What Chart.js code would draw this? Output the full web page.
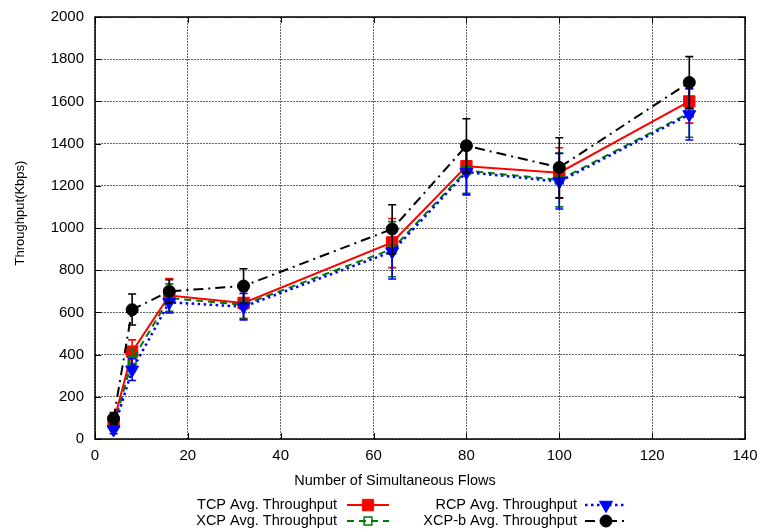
<!DOCTYPE html>
<html><head><meta charset="utf-8">
<script src="https://cdn.jsdelivr.net/npm/chart.js@4.4.0/dist/chart.umd.min.js"></script>
<style>html,body{margin:0;padding:0;background:#fff;}</style>
</head><body>
<canvas id="c" width="760" height="532"></canvas>
<script>
// ---- data ----
const flows = [4, 8, 16, 32, 64, 80, 100, 128];

const tcpAvg  = [78, 414, 680, 645, 932, 1293, 1262, 1600];
const tcpLow  = [55, 357, 602, 572, 812, 1161, 1142, 1497];
const tcpHigh = [102, 470, 760, 705, 1045, 1410, 1380, 1705];

const xcpAvg  = [60, 372, 668, 636, 900, 1272, 1228, 1545];
const xcpLow  = [40, 320, 605, 568, 769, 1165, 1100, 1430];
const xcpHigh = [85, 425, 735, 700, 1030, 1380, 1355, 1660];

const rcpAvg  = [45, 328, 648, 627, 888, 1265, 1220, 1538];
const rcpLow  = [25, 277, 597, 564, 758, 1157, 1090, 1417];
const rcpHigh = [70, 380, 700, 690, 1015, 1372, 1353, 1660];

const xcpbAvg  = [97, 613, 700, 725, 995, 1390, 1287, 1690];
const xcpbLow  = [70, 540, 645, 643, 877, 1262, 1143, 1568];
const xcpbHigh = [125, 687, 755, 807, 1110, 1518, 1428, 1812];

const seriesLabels = ['TCP Avg. Throughput', 'XCP Avg. Throughput', 'RCP Avg. Throughput', 'XCP-b Avg. Throughput'];
const xTitle = 'Number of Simultaneous Flows';
const yTitle = 'Throughput(Kbps)';

const FONT = "'Liberation Sans', Arial, Helvetica, sans-serif";
Chart.defaults.font.family = FONT;
Chart.defaults.font.size = 15;
Chart.defaults.color = '#000';

const pts = arr => arr.map((v, i) => ({x: flows[i], y: v}));

const datasets = [
  {label: seriesLabels[0], data: pts(tcpAvg), low: tcpLow, high: tcpHigh,
   borderColor: '#ff0000', borderWidth: 2, borderDash: [],
   pointStyle: 'rect', pointRadius: 8, pointBackgroundColor: '#ff0000', pointBorderColor: '#ff0000', pointBorderWidth: 1,
   order: 3},
  {label: seriesLabels[1], data: pts(xcpAvg), low: xcpLow, high: xcpHigh,
   borderColor: '#007a00', borderWidth: 2, borderDash: [7, 5],
   pointStyle: 'rect', pointRadius: 5.5, pointBackgroundColor: 'rgba(0,0,0,0)', pointBorderColor: '#007a00', pointBorderWidth: 1.5,
   order: 2},
  {label: seriesLabels[2], data: pts(rcpAvg), low: rcpLow, high: rcpHigh,
   borderColor: '#0000ff', borderWidth: 2.5, borderDash: [2.5, 3.5],
   pointStyle: 'triangle', pointRotation: 180, pointRadius: 7.5, pointBackgroundColor: '#0000ff', pointBorderColor: '#0000ff', pointBorderWidth: 1,
   order: 1},
  {label: seriesLabels[3], data: pts(xcpbAvg), low: xcpbLow, high: xcpbHigh,
   borderColor: '#000000', borderWidth: 2, borderDash: [10, 5, 2, 5],
   pointStyle: 'circle', pointRadius: 6, pointBackgroundColor: '#000000', pointBorderColor: '#000000', pointBorderWidth: 1,
   order: 0}
];

const errorBars = {
  id: 'errorBars',
  beforeDatasetDraw(chart, args) {
    const ds = chart.data.datasets[args.index];
    const {ctx, scales: {x, y}} = chart;
    ctx.save();
    ctx.strokeStyle = ds.borderColor;
    ctx.lineWidth = 1.6;
    ctx.setLineDash([]);
    ds.low.forEach((lo, j) => {
      const px = x.getPixelForValue(flows[j]);
      const y1 = y.getPixelForValue(lo), y2 = y.getPixelForValue(ds.high[j]);
      ctx.beginPath();
      ctx.moveTo(px, y1); ctx.lineTo(px, y2);
      ctx.moveTo(px - 4, y1); ctx.lineTo(px + 4, y1);
      ctx.moveTo(px - 4, y2); ctx.lineTo(px + 4, y2);
      ctx.stroke();
    });
    ctx.restore();
  }
};

const frame = {
  id: 'frame',
  beforeDatasetsDraw(chart) {
    const {ctx, chartArea: a, scales: {x, y}} = chart;
    ctx.save();
    ctx.strokeStyle = '#000';
    ctx.lineWidth = 1;
    ctx.setLineDash([]);
    ctx.beginPath();
    y.ticks.forEach(t => {
      const py = Math.round(y.getPixelForValue(t.value)) + 0.5;
      ctx.moveTo(a.left, py); ctx.lineTo(a.left + 6, py);
      ctx.moveTo(a.right, py); ctx.lineTo(a.right - 6, py);
    });
    x.ticks.forEach(t => {
      const px = Math.round(x.getPixelForValue(t.value)) + 0.5;
      ctx.moveTo(px, a.bottom); ctx.lineTo(px, a.bottom - 6);
      ctx.moveTo(px, a.top); ctx.lineTo(px, a.top + 6);
    });
    ctx.stroke();
    ctx.lineWidth = 1.5;
    ctx.strokeRect(a.left, a.top, a.right - a.left, a.bottom - a.top);
    ctx.restore();
  }
};

function marker(ctx, ds, cx, cy) {
  ctx.save();
  ctx.setLineDash([]);
  ctx.fillStyle = ds.pointBackgroundColor;
  ctx.strokeStyle = ds.pointBorderColor;
  ctx.lineWidth = ds.pointBorderWidth;
  const r = ds.pointRadius;
  ctx.beginPath();
  if (ds.pointStyle === 'rect') {
    const s = Math.SQRT1_2 * r;
    ctx.rect(cx - s, cy - s, 2 * s, 2 * s);
  } else if (ds.pointStyle === 'triangle') {
    const rot = (ds.pointRotation || 0) * Math.PI / 180;
    for (let k = 0; k < 3; k++) {
      const ang = rot - Math.PI / 2 + k * 2 * Math.PI / 3;
      const px = cx + Math.cos(ang) * r, py = cy + Math.sin(ang) * r;
      k ? ctx.lineTo(px, py) : ctx.moveTo(px, py);
    }
    ctx.closePath();
  } else {
    ctx.arc(cx, cy, r, 0, Math.PI * 2);
  }
  ctx.fill();
  ctx.stroke();
  ctx.restore();
}

const keyPlugin = {
  id: 'gnuKey',
  afterDraw(chart) {
    const {ctx} = chart;
    ctx.save();
    ctx.fillStyle = '#000';
    ctx.textBaseline = 'middle';
    // axis titles
    ctx.textAlign = 'center';
    ctx.font = '14.5px ' + FONT;
    ctx.fillText(xTitle, 395, 481);
    ctx.save();
    ctx.translate(20, 213);
    ctx.rotate(-Math.PI / 2);
    ctx.font = '13px ' + FONT;
    ctx.fillText(yTitle, 0, 0);
    ctx.restore();
    // key
    ctx.font = '14.5px ' + FONT;
    ctx.textAlign = 'right';
    const textRight = [337, 577], sampleLeft = [347, 585], sampleLen = 42, rows = [505, 521];
    chart.data.datasets.forEach((ds, i) => {
      const col = Math.floor(i / 2), row = i % 2;
      const yy = rows[row];
      ctx.fillStyle = '#000';
      ctx.fillText(ds.label, textRight[col], yy);
      ctx.save();
      ctx.strokeStyle = ds.borderColor;
      ctx.lineWidth = ds.borderWidth;
      ctx.setLineDash(ds.borderDash);
      ctx.beginPath();
      ctx.moveTo(sampleLeft[col], yy);
      ctx.lineTo(sampleLeft[col] + sampleLen, yy);
      ctx.stroke();
      ctx.restore();
      marker(ctx, ds, sampleLeft[col] + sampleLen / 2, yy);
    });
    ctx.restore();
  }
};

new Chart(document.getElementById('c'), {
  type: 'line',
  data: {datasets},
  options: {
    responsive: false,
    devicePixelRatio: 1,
    animation: false,
    events: [],
    layout: {padding: {left: 9, top: 17, right: 15, bottom: 42}},
    plugins: {legend: {display: false}, tooltip: {enabled: false}},
    scales: {
      x: {
        type: 'linear', min: 0, max: 140,
        afterFit(s) { s.height = 51; s.paddingLeft = 0; s.paddingRight = 0; },
        ticks: {stepSize: 20, padding: 8, maxRotation: 0, font: {size: 15}, callback: v => String(v)},
        grid: {drawTicks: false, color: 'rgba(0,0,0,0.6)', lineWidth: 1},
        border: {display: false, dash: [2, 1]}
      },
      y: {
        type: 'linear', min: 0, max: 2000,
        afterFit(s) { s.width = 86; s.paddingTop = 0; s.paddingBottom = 0; },
        ticks: {stepSize: 200, padding: 11, font: {size: 15}, callback: v => String(v)},
        grid: {drawTicks: false, color: 'rgba(0,0,0,0.6)', lineWidth: 1},
        border: {display: false, dash: [2, 1]},
        title: {display: false, text: yTitle}
      }
    }
  },
  plugins: [errorBars, frame, keyPlugin]
});
</script>
</body></html>
